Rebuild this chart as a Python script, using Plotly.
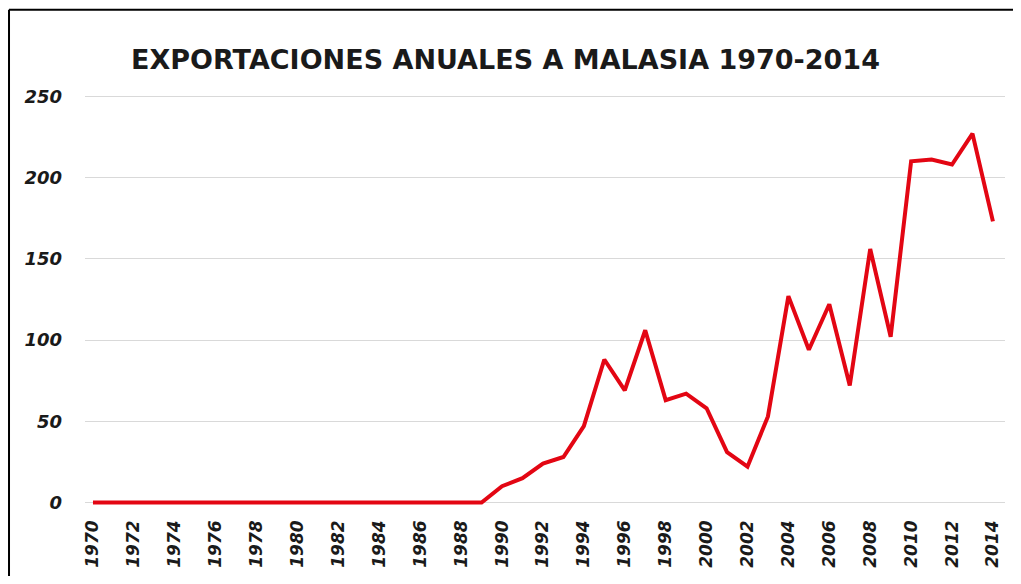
import plotly.graph_objects as go

# Exportaciones anuales a Malasia
years = list(range(1970, 2015))
exports = [
    0, 0, 0, 0, 0, 0, 0, 0, 0, 0,
    0, 0, 0, 0, 0, 0, 0, 0, 0, 0,
    10, 15, 24, 28, 47, 88, 69, 106, 63, 67,
    58, 31, 22, 53, 127, 94, 122, 72, 156, 102,
    210, 211, 208, 227, 173,
]
tick_years = [y for y in years if y % 2 == 0]
y_ticks = [0, 50, 100, 150, 200, 250]

fig = go.Figure()
fig.add_trace(go.Scatter(
    x=years, y=exports, mode="lines",
    line=dict(color="#e30613", width=4),
    hoverinfo="x+y", showlegend=False,
))

# la página añade 8px de margen al body, se compensa aquí
fig.update_layout(
    width=1005, height=568,
    margin=dict(l=77, r=8, t=85, b=63),
    paper_bgcolor="white", plot_bgcolor="white",
    title=dict(
        text="EXPORTACIONES ANUALES A MALASIA 1970-2014",
        x=0.495, xanchor="center", y=0.91, yanchor="middle",
        font=dict(family="DejaVu Sans", size=27, color="#1a1a1a", weight="bold"),
    ),
    xaxis=dict(
        range=[1969.61, 2014.59],
        tickvals=tick_years, ticktext=[str(y) for y in tick_years],
        tickangle=-90, showgrid=False, zeroline=False, showline=False,
        ticks="", ticklabelstandoff=7,
        tickfont=dict(family="DejaVu Sans", size=17, color="#1a1a1a",
                      weight="bold", style="italic"),
    ),
    yaxis=dict(
        range=[-4, 252], tickvals=y_ticks,
        showgrid=True, gridcolor="#d9d9d9", gridwidth=1,
        zeroline=True, zerolinecolor="#d9d9d9", zerolinewidth=1,
        showline=False, ticks="", ticklabelstandoff=22,
        tickfont=dict(family="DejaVu Sans", size=18, color="#1a1a1a",
                      weight="bold", style="italic"),
    ),
    shapes=[
        dict(type="line", xref="paper", yref="paper",
             x0=-0.0826, x1=-0.0826, y0=-0.3, y1=1.2,
             line=dict(color="black", width=2)),
        dict(type="line", xref="paper", yref="paper",
             x0=-0.0826, x1=1.1, y0=1.2, y1=1.2,
             line=dict(color="black", width=2)),
    ],
)

fig.write_html("out.html")
